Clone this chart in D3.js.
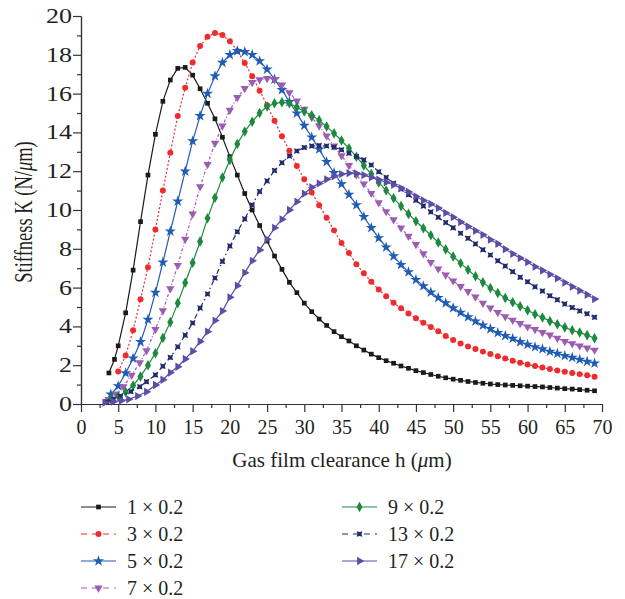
<!DOCTYPE html>
<html>
<head>
<meta charset="utf-8">
<script src="https://cdn.jsdelivr.net/npm/d3@7"></script>
<style>
    body { margin: 0; background: #fff; }
    #chart-area { width: 625px; height: 599px; }
    text { font-family: "Liberation Serif", "Times New Roman", serif; fill: #231f20; }
    .axis path, .axis line { stroke: #333; stroke-width: 1.2; }
</style>
</head>
<body>
<div id="chart-area"></div>
<script>

// gas film clearance h (um), grid shared by every series from 10 to 69
const clearance = [10, 11, 12, 13, 14, 15, 16, 17, 18, 19,
    20, 21, 22, 23, 24, 25, 26, 27, 28, 29,
    30, 31, 32, 33, 34, 35, 36, 37, 38, 39,
    40, 41, 42, 43, 44, 45, 46, 47, 48, 49,
    50, 51, 52, 53, 54, 55, 56, 57, 58, 59,
    60, 61, 62, 63, 64, 65, 66, 67, 68, 69]

// first points of each curve (below h = 10)
const lead1H = [3.75, 4.5, 5, 6, 7, 8, 9]
const lead1K = [1.6, 2.3, 3.0, 4.7, 6.9, 9.4, 11.8]
const lead3H = [5, 6, 7, 8, 9]
const lead3K = [1.67, 2.5, 3.8, 5.4, 7.05]
const lead5H = [4, 5, 6, 7, 8, 9]
const lead5K = [0.5, 0.93, 1.6, 2.35, 3.2, 4.35]
const lead7H = [3.7, 4.7, 5.7, 6.8, 7.9, 8.8]
const lead7K = [0.24, 0.52, 0.89, 1.49, 2.13, 2.75]
const lead9H = [4, 5, 6, 7, 8, 9]
const lead9K = [0.25, 0.4, 0.62, 0.95, 1.42, 2.0]
const lead13H = [3.45, 4.35, 5.3, 6.7, 7.9, 8.8]
const lead13K = [0.12, 0.24, 0.4, 0.64, 0.89, 1.15]
const lead17H = [3.2, 4.35, 5.4, 6.4, 7.6, 8.8]
const lead17K = [0.07, 0.12, 0.17, 0.24, 0.41, 0.63]

// stiffness K (N/um) on the clearance grid
const stiff1 = [13.9, 15.6, 16.7, 17.3, 17.35, 16.95, 16.25, 15.5, 14.7, 13.75,
    12.75, 11.8, 10.85, 10.0, 9.2, 8.4, 7.63, 6.94, 6.27, 5.74,
    5.2, 4.76, 4.38, 4.05, 3.73, 3.47, 3.25, 3.0, 2.78, 2.57,
    2.39, 2.23, 2.1, 1.96, 1.84, 1.72, 1.62, 1.52, 1.43, 1.35,
    1.28, 1.22, 1.16, 1.11, 1.07, 1.03, 1.0, 0.98, 0.96, 0.94,
    0.92, 0.9, 0.88, 0.85, 0.82, 0.79, 0.77, 0.74, 0.71, 0.68]
const stiff3 = [9.0, 11.0, 12.95, 14.85, 16.3, 17.6, 18.45, 18.93, 19.12, 19.02,
    18.7, 18.2, 17.58, 16.9, 16.15, 15.4, 14.6, 13.8, 13.05, 12.27,
    11.58, 10.9, 10.25, 9.6, 8.95, 8.3, 7.78, 7.2, 6.74, 6.3,
    5.9, 5.55, 5.22, 4.93, 4.67, 4.42, 4.19, 3.97, 3.75, 3.5,
    3.3, 3.12, 2.97, 2.83, 2.7, 2.58, 2.46, 2.34, 2.23, 2.13,
    2.04, 1.96, 1.88, 1.8, 1.73, 1.66, 1.6, 1.54, 1.48, 1.4]
const stiff5 = [5.75, 7.3, 8.9, 10.45, 12.0, 13.55, 14.85, 16.0, 16.9, 17.6,
    18.0, 18.2, 18.15, 18.0, 17.68, 17.25, 16.74, 16.19, 15.58, 14.98,
    14.35, 13.75, 13.13, 12.48, 11.92, 11.34, 10.8, 10.26, 9.65, 9.08,
    8.56, 8.08, 7.62, 7.18, 6.8, 6.4, 6.08, 5.76, 5.48, 5.2,
    4.95, 4.72, 4.48, 4.26, 4.06, 3.87, 3.67, 3.52, 3.37, 3.2,
    3.06, 2.94, 2.83, 2.7, 2.6, 2.49, 2.39, 2.29, 2.19, 2.1]
const stiff7 = [3.85, 4.81, 5.95, 7.15, 8.5, 9.8, 11.2, 12.35, 13.45, 14.33,
    15.15, 15.8, 16.27, 16.58, 16.72, 16.78, 16.72, 16.45, 16.05, 15.62,
    15.2, 14.77, 14.33, 13.82, 13.3, 12.8, 12.3, 11.82, 11.35, 10.86,
    10.38, 9.92, 9.5, 9.08, 8.65, 8.23, 7.75, 7.3, 6.97, 6.65,
    6.35, 6.06, 5.8, 5.52, 5.2, 4.95, 4.72, 4.5, 4.32, 4.15,
    3.98, 3.84, 3.69, 3.56, 3.39, 3.23, 3.11, 3.0, 2.89, 2.78]
const stiff9 = [2.62, 3.4, 4.22, 5.2, 6.25, 7.28, 8.37, 9.57, 10.63, 11.68,
    12.58, 13.4, 14.05, 14.55, 15.0, 15.33, 15.5, 15.55, 15.5, 15.3,
    15.08, 14.88, 14.62, 14.3, 13.95, 13.58, 13.18, 12.75, 12.3, 11.85,
    11.42, 11.0, 10.6, 10.2, 9.8, 9.42, 9.06, 8.7, 8.33, 7.97,
    7.6, 7.26, 6.92, 6.58, 6.27, 5.98, 5.72, 5.46, 5.24, 5.04,
    4.83, 4.63, 4.46, 4.27, 4.11, 3.95, 3.8, 3.68, 3.55, 3.39]
const stiff13 = [1.5, 1.95, 2.4, 2.95, 3.55, 4.18, 4.95, 5.67, 6.5, 7.35,
    8.15, 8.88, 9.54, 10.26, 10.95, 11.5, 12.03, 12.44, 12.78, 13.04,
    13.22, 13.3, 13.32, 13.3, 13.24, 13.1, 12.93, 12.76, 12.58, 12.32,
    11.97, 11.68, 11.38, 11.08, 10.79, 10.5, 10.2, 9.9, 9.62, 9.35,
    9.08, 8.8, 8.54, 8.25, 7.95, 7.68, 7.38, 7.11, 6.82, 6.53,
    6.3, 6.04, 5.82, 5.58, 5.37, 5.16, 4.97, 4.8, 4.65, 4.47]
const stiff17 = [0.98, 1.25, 1.62, 1.92, 2.32, 2.72, 3.22, 3.73, 4.3, 4.79,
    5.5, 6.1, 6.77, 7.38, 7.94, 8.49, 9.08, 9.52, 10.0, 10.43,
    10.84, 11.17, 11.37, 11.58, 11.74, 11.85, 11.9, 11.88, 11.8, 11.68,
    11.56, 11.43, 11.3, 11.13, 10.93, 10.7, 10.49, 10.31, 10.1, 9.85,
    9.63, 9.38, 9.15, 8.93, 8.72, 8.47, 8.26, 7.98, 7.74, 7.52,
    7.31, 7.08, 6.88, 6.68, 6.48, 6.26, 6.05, 5.84, 5.63, 5.41]

const seriesLabels = ["1 × 0.2", "3 × 0.2", "5 × 0.2", "7 × 0.2", "9 × 0.2", "13 × 0.2", "17 × 0.2"]
const xTicks = [0, 5, 10, 15, 20, 25, 30, 35, 40, 45, 50, 55, 60, 65, 70]
const yTicks = [0, 2, 4, 6, 8, 10, 12, 14, 16, 18, 20]


class StiffnessChart {
    constructor(parentElement) {
        this.parentElement = parentElement
        this.displayData = []

        this.initVis()
    }

    initVis() {
        let vis = this

        vis.width = 625
        vis.height = 599

        vis.svg = d3.select("#" + vis.parentElement).append("svg")
            .attr("width", vis.width)
            .attr("height", vis.height)

        vis.x = d3.scaleLinear().domain([0, 70]).range([81, 602])
        vis.y = d3.scaleLinear().domain([0, 20]).range([404, 16])

        // look of each curve
        vis.colors = ["#1a1a1a", "#ef2b2d", "#1f5cb5", "#9d5cb4", "#1b8a3e", "#222b6b", "#5a4ea6"]
        vis.dashes = [null, "2,2", null, "3,2,1,2", null, "5,3,1.5,3", null]
        vis.legendDashes = [null, "6,5", null, "6,5", null, "6,5", null]

        let star4 = function (r, ri) {
            let p = d3.path()
            for (let i = 0; i < 8; i++) {
                let a = Math.PI / 4 * i - Math.PI / 4
                let rr = i % 2 === 0 ? r : ri
                let px = rr * Math.cos(a), py = rr * Math.sin(a)
                if (i === 0) p.moveTo(px, py)
                else p.lineTo(px, py)
            }
            p.closePath()
            return p.toString()
        }

        vis.symbols = [
            {d: d3.symbol(d3.symbolSquare, 22)(), rot: 0},
            {d: d3.symbol(d3.symbolCircle, 28)(), rot: 0},
            {d: d3.symbol(d3.symbolStar, 38)(), rot: 0},
            {d: d3.symbol(d3.symbolTriangle, 30)(), rot: 180},
            {d: d3.symbol(d3.symbolDiamond, 32)(), rot: 0},
            {d: star4(4.0, 2.0), rot: 0},
            {d: d3.symbol(d3.symbolTriangle, 30)(), rot: 90}
        ]

        vis.svg.append("g")
            .attr("class", "x-axis axis")
            .attr("transform", "translate(0,404)")
        vis.svg.append("g")
            .attr("class", "x-axis-minor axis")
            .attr("transform", "translate(0,404)")
        vis.svg.append("g")
            .attr("class", "y-axis axis")
            .attr("transform", "translate(81,0)")
        vis.svg.append("g")
            .attr("class", "y-axis-minor axis")
            .attr("transform", "translate(81,0)")

        vis.plot = vis.svg.append("g").attr("class", "curves")
        vis.legend = vis.svg.append("g").attr("class", "legend")

        // axis titles
        vis.svg.append("text")
            .attr("x", 342)
            .attr("y", 467)
            .attr("text-anchor", "middle")
            .attr("font-size", 21)
            .html('Gas film clearance h (<tspan font-style="italic">μ</tspan>m)')

        vis.svg.append("text")
            .attr("transform", "translate(23,212) scale(1.4,1) rotate(-90)")
            .attr("text-anchor", "middle")
            .attr("dy", "0.35em")
            .attr("font-size", 18.5)
            .html('Stiffness K (N/<tspan font-style="italic">μ</tspan>m)')

        this.wrangleData()
    }

    wrangleData() {
        let vis = this

        let leadsH = [lead1H, lead3H, lead5H, lead7H, lead9H, lead13H, lead17H]
        let leadsK = [lead1K, lead3K, lead5K, lead7K, lead9K, lead13K, lead17K]
        let bodies = [stiff1, stiff3, stiff5, stiff7, stiff9, stiff13, stiff17]

        vis.displayData = []
        for (let i = 0; i < seriesLabels.length; i++) {
            let pts = []
            for (let j = 0; j < leadsH[i].length; j++) {
                pts.push({h: leadsH[i][j], k: leadsK[i][j]})
            }
            for (let j = 0; j < clearance.length; j++) {
                pts.push({h: clearance[j], k: bodies[i][j]})
            }
            vis.displayData.push({label: seriesLabels[i], index: i, points: pts})
        }

        this.updateVis()
    }

    updateVis() {
        let vis = this

        // axes, major and minor ticks
        let minorX = []
        for (let i = 0; i < xTicks.length - 1; i++) minorX.push((xTicks[i] + xTicks[i + 1]) / 2)
        let minorY = []
        for (let i = 0; i < yTicks.length - 1; i++) minorY.push((yTicks[i] + yTicks[i + 1]) / 2)

        vis.svg.select(".x-axis").call(d3.axisBottom(vis.x)
            .tickValues(xTicks).tickSize(8).tickSizeOuter(0).tickPadding(8))
        vis.svg.select(".x-axis-minor").call(d3.axisBottom(vis.x)
            .tickValues(minorX).tickSize(4).tickSizeOuter(0).tickFormat(""))
        vis.svg.select(".y-axis").call(d3.axisLeft(vis.y)
            .tickValues(yTicks).tickSize(8).tickSizeOuter(0))
        vis.svg.select(".y-axis-minor").call(d3.axisLeft(vis.y)
            .tickValues(minorY).tickSize(4).tickSizeOuter(0).tickFormat(""))

        vis.svg.selectAll(".x-axis text")
            .attr("font-size", 20)
            .attr("font-family", null)
            .attr("fill", "#231f20")
        vis.svg.selectAll(".y-axis text")
            .attr("font-size", 20)
            .attr("font-family", null)
            .attr("fill", "#231f20")
            .attr("x", -7)
            .attr("transform", "scale(1.3,1)")

        let line = d3.line()
            .x(d => vis.x(d.h))
            .y(d => vis.y(d.k))

        let groups = vis.plot.selectAll(".series")
            .data(vis.displayData)
            .join("g")
            .attr("class", "series")

        groups.append("path")
            .attr("fill", "none")
            .attr("stroke", d => vis.colors[d.index])
            .attr("stroke-width", 1.2)
            .attr("stroke-dasharray", d => vis.dashes[d.index])
            .attr("d", d => line(d.points))

        groups.each(function (s) {
            d3.select(this).selectAll(".marker")
                .data(s.points)
                .join("path")
                .attr("class", "marker")
                .attr("d", vis.symbols[s.index].d)
                .attr("fill", vis.colors[s.index])
                .attr("transform", d => `translate(${vis.x(d.h)},${vis.y(d.k)}) rotate(${vis.symbols[s.index].rot})`)
        })

        // legend, two columns
        let items = vis.legend.selectAll(".legend-item")
            .data(vis.displayData)
            .join("g")
            .attr("class", "legend-item")
            .attr("transform", d => {
                let col = d.index < 4 ? 0 : 1
                let row = d.index < 4 ? d.index : d.index - 4
                return `translate(${col === 0 ? 81 : 342},${507 + row * 27})`
            })

        items.append("line")
            .attr("x1", 0).attr("x2", 35)
            .attr("stroke", d => vis.colors[d.index])
            .attr("stroke-width", 1.2)
            .attr("stroke-dasharray", d => vis.legendDashes[d.index])

        items.append("path")
            .attr("d", d => vis.symbols[d.index].d)
            .attr("fill", d => vis.colors[d.index])
            .attr("transform", d => `translate(17.5,0) rotate(${vis.symbols[d.index].rot})`)

        items.append("text")
            .attr("x", 46)
            .attr("dy", "0.35em")
            .attr("font-size", 20)
            .text(d => d.label)
    }
}

let stiffnessChart = new StiffnessChart("chart-area")

</script>
</body>
</html>
